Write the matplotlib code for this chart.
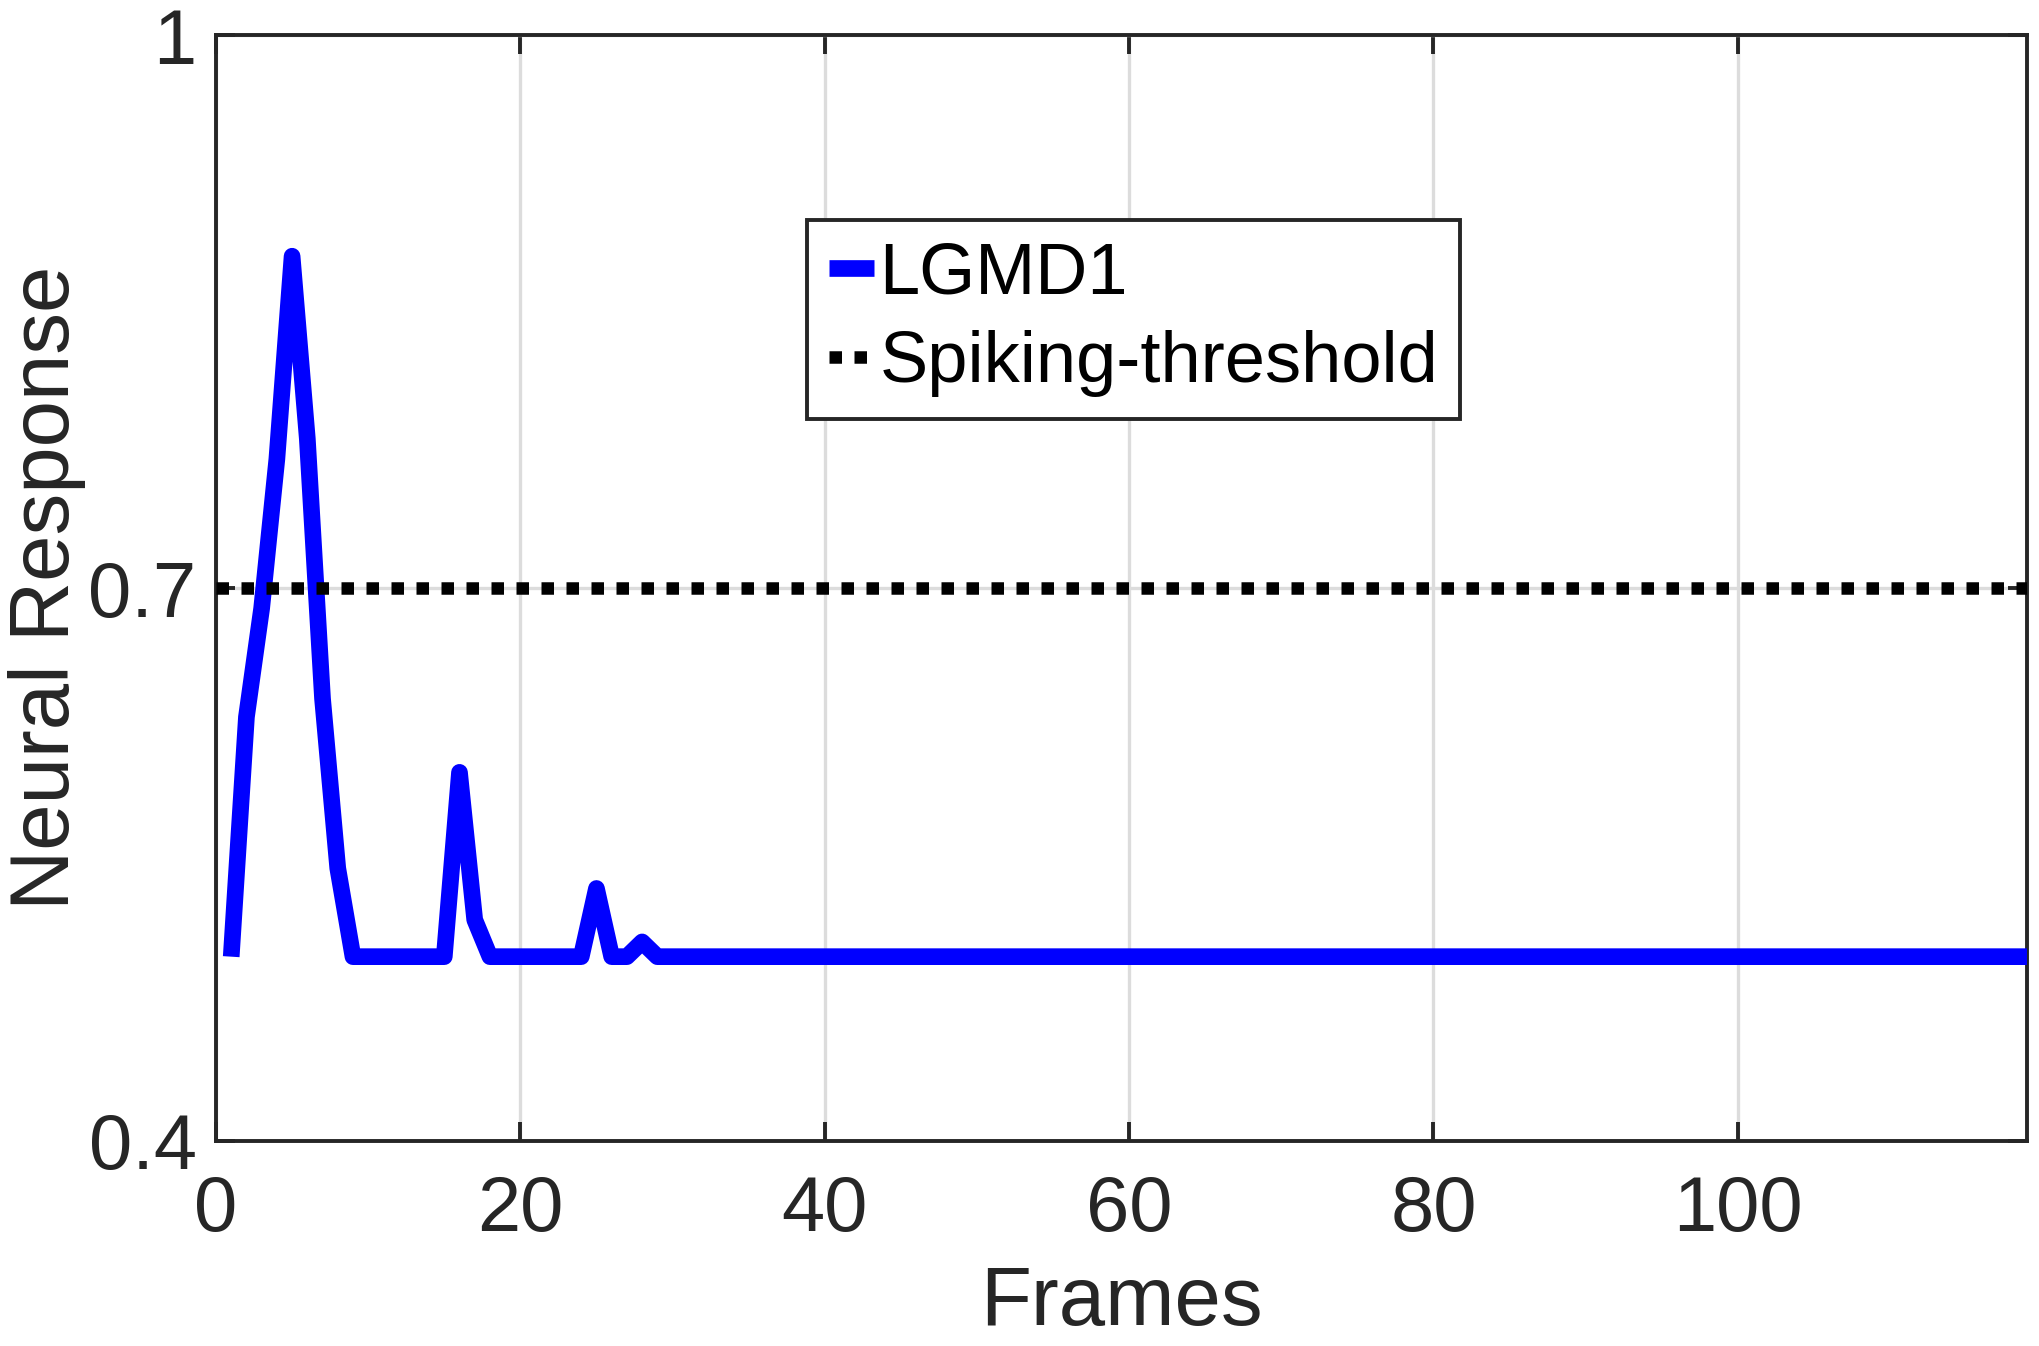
import matplotlib
matplotlib.use("Agg")
import matplotlib.pyplot as plt

# LGMD1 response per frame
frames = list(range(1, 120))
peak_frames = [1, 2, 3, 4, 5, 6, 7, 8, 9, 15, 16, 17, 18, 24, 25, 26, 27, 28, 29]
peak_values = [0.50, 0.630, 0.689, 0.770, 0.880, 0.781, 0.640, 0.548, 0.50,
               0.50, 0.600, 0.520, 0.50, 0.50, 0.537, 0.50, 0.50, 0.508, 0.50]
baseline = 0.50
response = [peak_values[peak_frames.index(f)] if f in peak_frames else baseline
            for f in frames]
threshold = 0.7

x_ticks = [0, 20, 40, 60, 80, 100]
y_ticks = [0.4, 0.7, 1.0]
y_labels = ["0.4", "0.7", "1"]

plt.rcParams["font.family"] = ["Liberation Sans", "DejaVu Sans"]
dark = "#262626"

fig = plt.figure(figsize=(10.2, 6.73), dpi=200)
ax = fig.add_axes([216 / 2040, 1 - 1141 / 1346, 1811 / 2040, 1106 / 1346])

ax.plot(frames, response, color="blue", lw=6, solid_joinstyle="round",
        solid_capstyle="butt", label="LGMD1", zorder=3)
ax.axhline(threshold, color="black", lw=4.5, linestyle=(0, (1, 1)),
           dash_capstyle="butt", label="Spiking-threshold", zorder=4)

ax.set_xlim(0, 119)
ax.set_ylim(0.4, 1.0)
ax.set_xticks(x_ticks)
ax.set_yticks(y_ticks)
ax.set_yticklabels(y_labels)
ax.grid(True, color="#dcdcdc", lw=1.2, zorder=0)
ax.set_axisbelow(True)

for s in ax.spines.values():
    s.set_color(dark)
    s.set_linewidth(1.4)
ax.tick_params(direction="in", length=7, width=1.4, color=dark,
               labelcolor=dark, labelsize=28, top=True, right=True)
ax.tick_params(axis="x", pad=12)
ax.tick_params(axis="y", pad=7)

ax.set_xlabel("Frames", fontsize=30, color=dark, labelpad=6)
ax.set_ylabel("Neural Response", fontsize=30, color=dark)
ax.yaxis.set_label_coords(-0.072, 0.5)

leg = ax.legend(loc="upper left", bbox_to_anchor=(0.3265, 0.833),
                borderaxespad=0, fontsize=26, handlelength=0.62,
                handletextpad=0.08, borderpad=0.3, labelspacing=0.3,
                fancybox=False, framealpha=1, edgecolor=dark)
leg.get_frame().set_linewidth(1.4)
for t in leg.get_texts():
    t.set_color("black")

fig.savefig("out.png", dpi=200)
